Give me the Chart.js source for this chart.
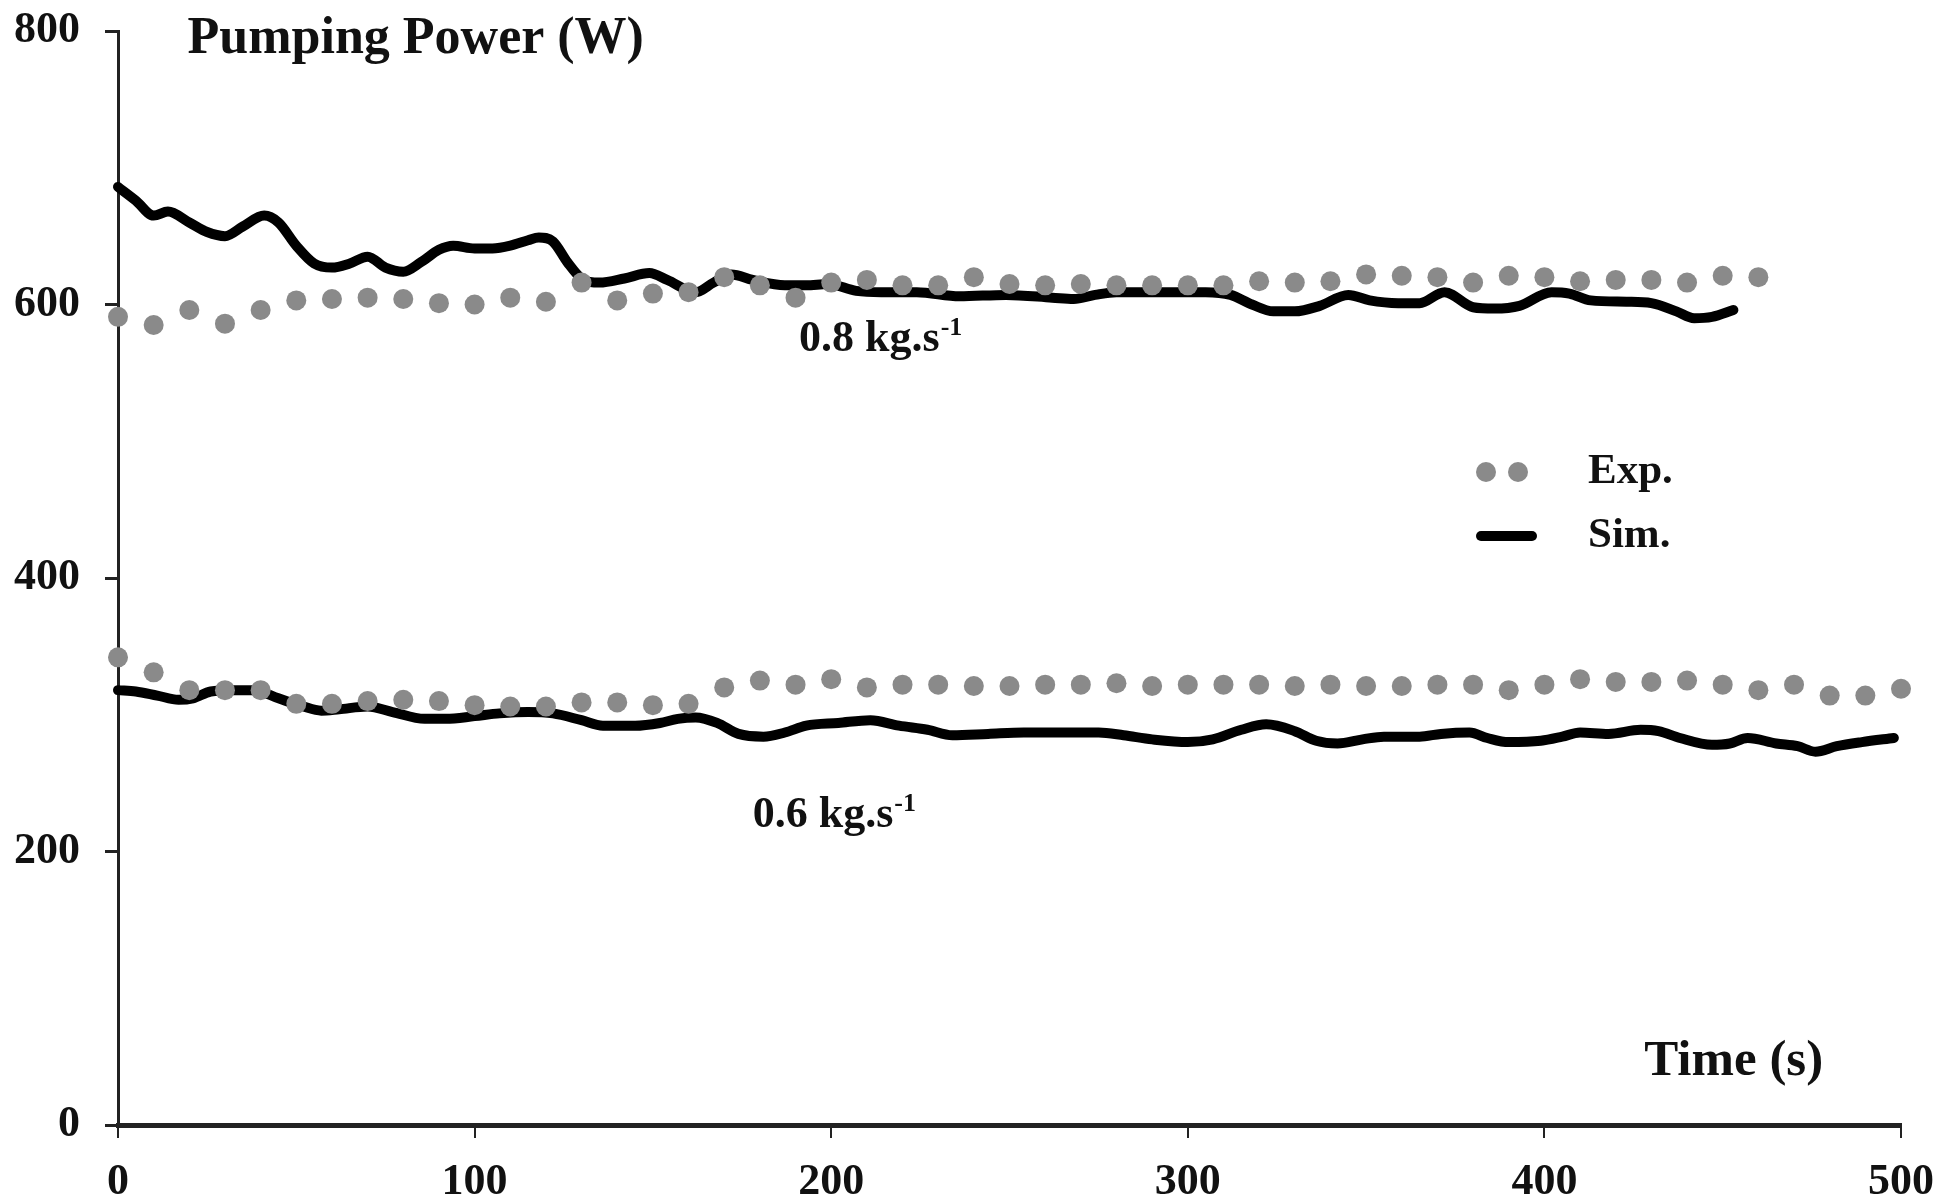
<!DOCTYPE html>
<html>
<head>
<meta charset="utf-8">
<script src="https://cdn.jsdelivr.net/npm/chart.js@4.4.1/dist/chart.umd.min.js"></script>
<style>
  html, body { margin: 0; padding: 0; background: #ffffff; }
  #wrap { width: 1942px; height: 1203px; }
</style>
</head>
<body>
<div id="wrap"><canvas id="c" width="1942" height="1203"></canvas></div>
<script>
// ---- Data ----
const xTickLabels = ['0', '100', '200', '300', '400', '500'];
const yTickLabels = ['0', '200', '400', '600', '800'];

// Experimental, 0.8 kg/s
const expTime08 = [0,10,20,30,40,50,60,70,80,90,100,110,120,130,140,150,160,170,180,190,200,210,220,230,240,250,260,270,280,290,300,310,320,330,340,350,360,370,380,390,400,410,420,430,440,450,460];
const expPower08 = [591,585,596,586,596,603,604,605,604,601,600,605,602,616,603,608,609,620,614,605,616,618,614,614,620,615,614,615,614,614,614,614,617,616,617,622,621,620,616,621,620,617,618,618,616,621,620];

// Experimental, 0.6 kg/s
const expTime06 = [0,10,20,30,40,50,60,70,80,90,100,110,120,130,140,150,160,170,180,190,200,210,220,230,240,250,260,270,280,290,300,310,320,330,340,350,360,370,380,390,400,410,420,430,440,450,460,470,480,490,500];
const expPower06 = [342,331,318,318,318,308,308,310,311,310,307,306,306,309,309,307,308,320,325,322,326,320,322,322,321,321,322,322,323,321,322,322,322,321,322,321,321,322,322,318,322,326,324,324,325,322,318,322,314,314,319];

// Simulation, 0.8 kg/s
const simTime08 = [0,5,10,14,20,25,30,35,41,45,50,55,60,65,70,75,80,85,90,94,100,105,110,115,118,122,126,130,135,142,149,154,162,167,172,178,187,193,199,207,214,224,236,249,262,268,274,280,293,305,312,318,324,330,337,345,351,359,365,372,380,386,393,402,407,413,423,430,437,442,447,453];
const simPower08 = [686,676,665,668,660,653,650,657,665,660,643,630,627,630,635,627,624,631,640,643,641,641,643,647,649,646,631,619,616,619,623,618,609,616,622,618,614,614,615,610,609,609,606,607,605,604,607,609,609,609,607,600,595,595,599,607,603,601,601,609,598,597,599,609,608,603,602,601,595,590,591,596];

// Simulation, 0.6 kg/s
const simTime06 = [0,5,11,17,21,26,32,38,45,52,57,62,70,77,86,92,100,107,115,122,130,136,145,152,157,162,168,174,181,187,193,202,211,219,227,234,244,254,265,275,282,290,300,307,315,322,330,336,342,349,355,365,371,379,384,390,399,405,410,418,427,432,438,447,452,457,465,471,476,482,489,498];
const simPower06 = [318,317,314,311,312,317,318,318,312,306,303,304,306,302,297,297,299,301,302,301,296,292,292,294,297,298,294,286,284,287,292,294,296,292,289,285,286,287,287,287,285,282,280,282,289,293,288,281,279,282,284,284,286,287,283,280,281,284,287,286,289,288,283,278,279,283,279,277,273,277,280,283];

const legendLabels = ['Exp.', 'Sim.'];
const flowLabels = ['0.8 kg.s', '0.6 kg.s'];

const pts = (xs, ys) => xs.map((x, i) => ({ x: x, y: ys[i] }));

const FONT = '"Liberation Serif", "Times New Roman", serif';
const DOT = '#8a8a8a';
const INK = '#111111';

const textPlugin = {
  id: 'texts',
  afterDraw(chart) {
    const ctx = chart.ctx;
    const xs = chart.scales.x, ys = chart.scales.y;
    ctx.save();
    ctx.fillStyle = INK;
    ctx.textBaseline = 'middle';
    ctx.textAlign = 'left';

    // Axis titles
    ctx.font = 'bold 52px ' + FONT;
    ctx.fillText('Pumping Power (W)', xs.getPixelForValue(19.5), ys.getPixelForValue(794));
    ctx.font = 'bold 51px ' + FONT;
    ctx.fillText('Time (s)', xs.getPixelForValue(428), ys.getPixelForValue(46));

    // Flow-rate annotations with superscript
    const anno = [
      { t: flowLabels[0], x: 191, y: 574 },
      { t: flowLabels[1], x: 178, y: 226 }
    ];
    anno.forEach(a => {
      ctx.font = 'bold 44px ' + FONT;
      const px = xs.getPixelForValue(a.x), py = ys.getPixelForValue(a.y);
      ctx.fillText(a.t, px, py);
      const w = ctx.measureText(a.t).width;
      ctx.font = 'bold 26px ' + FONT;
      ctx.fillText('-1', px + w + 1, py - 12);
    });

    // Legend
    const lx = 1486, ly1 = 472, ly2 = 536;
    ctx.fillStyle = DOT;
    [lx, lx + 32].forEach(cx => {
      ctx.beginPath();
      ctx.arc(cx, ly1, 10, 0, Math.PI * 2);
      ctx.fill();
    });
    ctx.strokeStyle = '#000';
    ctx.lineWidth = 10;
    ctx.lineCap = 'round';
    ctx.beginPath();
    ctx.moveTo(1481, ly2);
    ctx.lineTo(1532, ly2);
    ctx.stroke();
    ctx.fillStyle = INK;
    ctx.font = 'bold 43px ' + FONT;
    ctx.fillText(legendLabels[0], 1588, ly1);
    ctx.fillText(legendLabels[1], 1588, ly2);
    ctx.restore();
  }
};

const lineDs = (xs, ys) => ({
  type: 'scatter',
  data: pts(xs, ys),
  showLine: true,
  borderColor: '#000000',
  borderWidth: 10,
  pointRadius: 0,
  tension: 0.4,
  cubicInterpolationMode: 'monotone',
  borderCapStyle: 'round',
  borderJoinStyle: 'round',
  fill: false,
  clip: false,
  order: 2
});
const dotDs = (xs, ys) => ({
  type: 'scatter',
  data: pts(xs, ys),
  showLine: false,
  pointRadius: 10,
  pointBackgroundColor: DOT,
  pointBorderWidth: 0,
  clip: false,
  order: 1
});

new Chart(document.getElementById('c'), {
  type: 'scatter',
  data: {
    datasets: [
      Object.assign(dotDs(expTime08, expPower08), { label: 'Exp. 0.8' }),
      Object.assign(lineDs(simTime08, simPower08), { label: 'Sim. 0.8' }),
      Object.assign(dotDs(expTime06, expPower06), { label: 'Exp. 0.6' }),
      Object.assign(lineDs(simTime06, simPower06), { label: 'Sim. 0.6' })
    ]
  },
  options: {
    responsive: false,
    animation: false,
    devicePixelRatio: 1,
    layout: { padding: { top: 31, right: 41, left: 0, bottom: 0 } },
    plugins: { legend: { display: false }, tooltip: { enabled: false }, title: { display: false } },
    scales: {
      x: {
        type: 'linear', min: 0, max: 500,
        afterFit: s => { s.height = 78; s.paddingLeft = 0; s.paddingRight = 0; },
        afterBuildTicks: s => { s.ticks = xTickLabels.map(v => ({ value: Number(v) })); },
        ticks: { color: INK, font: { family: FONT, size: 44, weight: 'bold' }, padding: 18, maxRotation: 0,
                 callback: v => String(v) },
        grid: { drawOnChartArea: false, drawTicks: true, tickLength: 13, color: '#222', lineWidth: 2 },
        border: { display: true, color: '#222', width: 5 }
      },
      y: {
        type: 'linear', min: 0, max: 800,
        afterFit: s => { s.width = 118; s.paddingTop = 0; s.paddingBottom = 0; },
        afterBuildTicks: s => { s.ticks = yTickLabels.map(v => ({ value: Number(v) })); },
        ticks: { color: INK, font: { family: FONT, size: 44, weight: 'bold' }, padding: 25,
                 callback: v => String(v) },
        grid: { drawOnChartArea: false, drawTicks: true, tickLength: 13, color: '#222', lineWidth: 3 },
        border: { display: true, color: '#222', width: 3 }
      }
    }
  },
  plugins: [textPlugin]
});
</script>
</body>
</html>
